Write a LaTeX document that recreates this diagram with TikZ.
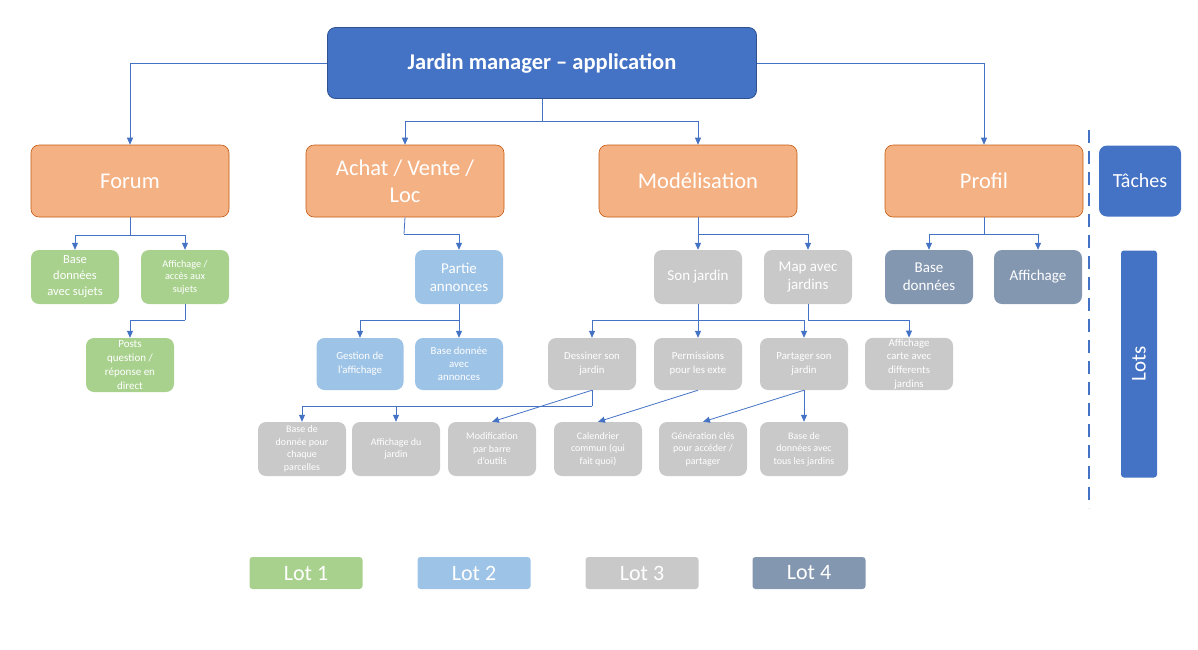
\documentclass[tikz,border=0pt]{standalone}
\usepackage{fontspec}
\setmainfont{Carlito}
\usetikzlibrary{arrows.meta,calc}

\definecolor{bleuapp}{HTML}{4472C4}
\definecolor{bordapp}{HTML}{2F528F}
\definecolor{orangetache}{HTML}{F4B183}
\definecolor{bordorange}{HTML}{C55A11}
\definecolor{lotvert}{HTML}{A9D18E}
\definecolor{lotbleu}{HTML}{9DC3E6}
\definecolor{lotgris}{HTML}{C9C9C9}
\definecolor{lotardoise}{HTML}{8497B0}

\tikzset{
  boite/.style={rounded corners=8pt, text=white, align=center, inner sep=1pt},
  tache/.style={boite, fill=orangetache, draw=bordorange, line width=0.6pt,
    minimum width=198pt, minimum height=72pt, font=\fontsize{22.5}{27}\selectfont},
  petit/.style={boite, minimum width=88pt, minimum height=54pt},
  vert/.style={petit, fill=lotvert},
  bleuclair/.style={petit, fill=lotbleu},
  gris/.style={petit, fill=lotgris},
  ardoise/.style={petit, fill=lotardoise},
  legende/.style={boite, rounded corners=3pt, minimum width=113pt, minimum height=32pt,
    font=\fontsize{22}{24}\selectfont},
  fleche/.style={draw=bleuapp, line width=0.8pt, -{Triangle[length=7pt,width=6pt]}},
  trait/.style={draw=bleuapp, line width=0.8pt},
}

\begin{document}
\begin{tikzpicture}[x=1pt,y=-1pt]
  \useasboundingbox (0,0) rectangle (1198,649);

  % application
  \node[boite, fill=bleuapp, draw=bordapp, line width=0.8pt, minimum width=429pt, minimum height=71pt,
    font=\fontsize{22.5}{26}\selectfont\bfseries] (app) at (542,63) {Jardin manager -- application};

  % taches
  \node[tache] (forum) at (130,181) {Forum};
  \node[tache] (achat) at (405,181) {Achat / Vente /\\Loc};
  \node[tache] (model) at (698,181) {Modélisation};
  \node[tache] (profil) at (984,181) {Profil};

  \coordinate (m1) at (542,121);
  \draw[fleche] (app.west) -| (forum.north);
  \draw[fleche] (app.east) -| (profil.north);
  \draw[trait] (app.south) -- (m1);
  \draw[fleche] (m1) -| (achat.north);
  \draw[fleche] (m1) -| (model.north);

  % forum
  \node[vert, font=\fontsize{12.5}{16}\selectfont] (bdsujets) at (75,277) {Base\\données\\avec sujets};
  \node[vert, font=\fontsize{10.3}{12.5}\selectfont] (affsujets) at (185,277) {Affichage /\\accès aux\\sujets};
  \node[vert, font=\fontsize{11}{14}\selectfont] (posts) at (130,365) {Posts\\question /\\réponse en\\direct};
  \coordinate (f1) at (130,235);
  \draw[trait] (forum.south) -- (f1);
  \draw[fleche] (f1) -| (bdsujets.north);
  \draw[fleche] (f1) -| (affsujets.north);
  \coordinate (f2) at (185,320);
  \draw[trait] (affsujets.south) -- (f2);
  \draw[fleche] (f2) -| (posts.north);

  % achat / vente
  \node[bleuclair, font=\fontsize{15}{18}\selectfont] (partie) at (459,277) {Partie\\annonces};
  \node[bleuclair, minimum width=87pt, minimum height=52pt, font=\fontsize{10.8}{14}\selectfont] (gestion) at (360,364) {Gestion de\\l’affichage};
  \node[bleuclair, minimum height=52pt, font=\fontsize{10.8}{13}\selectfont] (bdannonces) at (459,364) {Base donnée\\avec\\annonces};
  \coordinate (a1) at (404,234);
  \draw[trait] (achat.south) -- (a1);
  \draw[fleche] (a1) -| (partie.north);
  \coordinate (a2) at (459,320);
  \draw[trait] (partie.south) -- (a2);
  \draw[fleche] (a2) -| (gestion.north);
  \draw[fleche] (a2) -- (bdannonces.north);

  % modelisation
  \node[gris, font=\fontsize{15}{18}\selectfont] (sonjardin) at (698,277) {Son jardin};
  \node[gris, font=\fontsize{15}{18}\selectfont] (map) at (808,277) {Map avec\\jardins};
  \coordinate (mo1) at (698,234);
  \draw[trait] (model.south) -- (mo1);
  \draw[fleche] (mo1) -- (sonjardin.north);
  \draw[fleche] (mo1) -| (map.north);

  \node[gris, minimum height=52pt, font=\fontsize{10.8}{14}\selectfont] (dessiner) at (592,364) {Dessiner son\\jardin};
  \node[gris, minimum height=52pt, font=\fontsize{10.8}{14}\selectfont] (permis) at (698,364) {Permissions\\pour les exte};
  \node[gris, minimum height=52pt, font=\fontsize{10.8}{14}\selectfont] (partager) at (804,364) {Partager son\\jardin};
  \node[gris, minimum height=52pt, font=\fontsize{10.8}{13.7}\selectfont] (carte) at (909,364) {Affichage\\carte avec\\differents\\jardins};
  \coordinate (s1) at (698,320);
  \draw[trait] (sonjardin.south) -- (s1);
  \draw[fleche] (s1) -| (dessiner.north);
  \draw[fleche] (s1) -- (permis.north);
  \draw[fleche] (s1) -| (partager.north);
  \coordinate (p1) at (808,320);
  \draw[trait] (map.south) -- (p1);
  \draw[fleche] (p1) -| (carte.north);

  % niveau 4
  \node[gris, font=\fontsize{10}{12.5}\selectfont] (parcelles) at (302,449) {Base de\\donnée pour\\chaque\\parcelles};
  \node[gris, font=\fontsize{10}{12.5}\selectfont] (affjardin) at (396,449) {Affichage du\\jardin};
  \node[gris, font=\fontsize{10}{12.5}\selectfont] (modif) at (492,449) {Modification\\par barre\\d’outils};
  \node[gris, font=\fontsize{10}{12.5}\selectfont] (calend) at (598,449) {Calendrier\\commun (qui\\fait quoi)};
  \node[gris, font=\fontsize{10}{12.5}\selectfont] (gencles) at (703,449) {Génération clés\\pour accéder /\\partager};
  \node[gris, font=\fontsize{10}{12.5}\selectfont] (bdtous) at (804,449) {Base de\\données avec\\tous les jardins};
  \coordinate (d1) at (592,406);
  \draw[trait] (dessiner.south) -- (d1);
  \draw[fleche] (d1) -| (parcelles.north);
  \draw[fleche] (d1) -| (affjardin.north);
  \draw[fleche] (dessiner.south) -- (modif.north);
  \draw[fleche] (permis.south) -- (calend.north);
  \draw[fleche] (partager.south) -- (gencles.north);
  \draw[fleche] (partager.south) -- (bdtous.north);

  % profil
  \node[ardoise, font=\fontsize{15}{18}\selectfont] (bdprofil) at (929,277) {Base\\données};
  \node[ardoise, font=\fontsize{15}{18}\selectfont] (affprofil) at (1038,277) {Affichage};
  \coordinate (pr1) at (984,234);
  \draw[trait] (profil.south) -- (pr1);
  \draw[fleche] (pr1) -| (bdprofil.north);
  \draw[fleche] (pr1) -| (affprofil.north);

  % separation et reperes
  \draw[bleuapp, line width=2.5pt, dash pattern=on 13pt off 8pt] (1089,130) -- (1089,508);
  \node[boite, fill=bleuapp, minimum width=82pt, minimum height=71pt,
    font=\fontsize{20}{22}\selectfont] (taches) at (1140,181) {Tâches};
  \node[boite, fill=bleuapp, rounded corners=3pt, minimum width=36pt, minimum height=227pt] (lots) at (1139,364) {};
  \node[text=white, rotate=90, font=\fontsize{21}{23}\selectfont] (lotslbl) at (lots.center) {Lots};

  % legende
  \node[legende, fill=lotvert] (lot1) at (306,573) {Lot 1};
  \node[legende, fill=lotbleu] (lot2) at (474,573) {Lot 2};
  \node[legende, fill=lotgris] (lot3) at (642,573) {Lot 3};
  \node[legende, fill=lotardoise] (lot4) at (809,573) {Lot 4};
\end{tikzpicture}
\end{document}
